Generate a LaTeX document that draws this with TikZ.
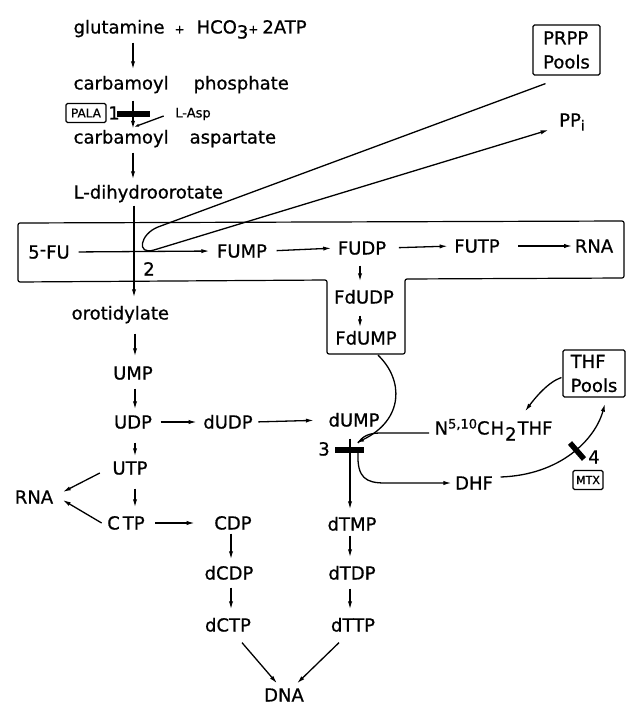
\documentclass[tikz,border=0pt]{standalone}
\usepackage{fontspec}
\setmainfont{DejaVu Sans}[FakeBold=0.8]
\usetikzlibrary{arrows.meta,calc}
\begin{document}
\begin{tikzpicture}[x=1pt,y=-1pt,
  line width=1.3pt,
  tip/.style={-{Latex[length=8pt,width=4.2pt]}},
  sh/.style 2 args={shorten <=#1pt, shorten >=#2pt},
  lbl/.style={inner sep=1pt,font=\fontsize{18}{22}\selectfont,text height=13pt,text depth=0pt},
  sml/.style={inner sep=1pt,font=\fontsize{13}{15}\selectfont},
  boxed/.style={draw,line width=1.2pt,rounded corners=1.5pt},
  pool/.style={boxed,align=left,inner sep=2pt,font=\fontsize{18}{24}\selectfont},
  inhib/.style={line width=5.5pt},
]
\useasboundingbox (0,0) rectangle (627,706);

% column guides
\coordinate (c1) at (133,0);
\coordinate (c1b) at (135,0);
\coordinate (c2) at (231,0);
\coordinate (c3) at (350,0);
\coordinate (c4) at (360,0);

% ---- top of the pathway ----
\node[lbl,anchor=west] (glu) at (72,27) {glutamine\hspace{10pt}{\fontsize{12}{12}\selectfont +}\hspace{12pt}HCO\raisebox{-5pt}{3}{\fontsize{12}{12}\selectfont +}\hspace{4pt}2ATP};
\node[lbl,anchor=west] (cp) at (72,83) {carbamoyl\hspace{25pt}phosphate};
\node[lbl,anchor=west] (ca) at (72,137) {carbamoyl\hspace{21pt}aspartate};
\node[lbl,anchor=west] (ld) at (72,192) {L-dihydroorotate};
\node[lbl,anchor=west] (orot) at (70,313) {orotidylate};

\draw[tip,sh={7.5}{5.5}] (glu.south -| c1) -- (cp.north -| c1);
\draw[tip,sh={9.5}{0}] (cp.south -| c1) -- (ca.north -| c1);
\draw[tip,sh={7.5}{4.5}] (ca.south -| c1) -- (ld.north -| c1);

% PALA inhibition
\node[boxed,font=\fontsize{12}{14}\selectfont,inner sep=1.5pt,minimum width=40pt,minimum height=19pt] (pala) at (86,113) {PALA};
\node[lbl] (one) at (114,113) {1};
\node[sml] (lasp) at (193,114) {L-Asp};
\coordinate (b1l) at (117,114);
\coordinate (b1r) at (150,114);
\draw[inhib] (b1l) -- (b1r);
\coordinate (aspj) at (134,127);
\draw[-{Latex[length=5pt,width=3pt]}] ($(lasp.west)+(-10,2)$) -- (aspj);

% ---- 5-FU box ----
\draw[line width=1.2pt,rounded corners=2pt] (18,223) -- (624,221) -- (624,278) -- (405,279) -- (405,354) -- (327,354) -- (327,280) -- (18,282) -- cycle;
\node[lbl] (fu) at (49,252) {5\raisebox{3pt}{-}FU};
\node[lbl] (fump) at (242,251) {FUMP};
\node[lbl] (fudp) at (362,248) {FUDP};
\node[lbl] (futp) at (477,246) {FUTP};
\node[lbl] (rnar) at (594,246) {RNA};
\node[lbl] (fdudp) at (364,297) {FdUDP};
\node[lbl] (fdump) at (366,338) {FdUMP};
\node[lbl] (two) at (149,269) {2};

\draw[tip,sh={7.3}{6}] (fu.east) -- (fump.west);
\draw[tip,sh={8}{5}] (fump.east) -- (fudp.west);
\draw[tip,sh={11}{5}] (fudp.east) -- (futp.west);
\draw[tip,sh={17}{1}] (futp.east) -- (rnar.west);
\draw[tip,sh={9.5}{7.5}] (fudp.south -| c4) -- (fdudp.north -| c4);
\draw[tip,sh={10.5}{2.5}] (fdudp.south -| c4) -- (fdump.north -| c4);

\draw[tip,sh={5.5}{7.5}] (ld.south -| 134,0) -- (orot.north -| 134,0);

% PRPP loop
\node[pool,minimum width=67pt,minimum height=50pt] (prpp) at (566.5,50) {PRPP\\Pools};
\node[lbl] (ppi) at (572,120) {PP\raisebox{-4pt}{\fontsize{14}{14}\selectfont i}};
\coordinate (lu) at (158,227);
\coordinate (ll) at (154,250);
\draw[tip] ($(prpp.south)+(-21,8)$) -- (lu) .. controls (140,234) and (136,255.5) .. (ll) -- ($(ppi.west)+(-9,10)$);

% ---- main column ----
\node[lbl] (ump) at (133,373) {UMP};
\node[lbl] (udp) at (133,422) {UDP};
\node[lbl] (dudp) at (228,422) {dUDP};
\node[lbl] (utp) at (130,468) {UTP};
\node[lbl] (ctp) at (126,523) {C\hspace{3pt}TP};
\node[lbl] (rnal) at (34,497) {RNA};
\node[lbl] (cdp) at (233,523) {CDP};
\node[lbl] (dcdp) at (229,573) {dCDP};
\node[lbl] (dctp) at (228,625) {dCTP};
\node[lbl] (dna) at (284,695) {DNA};
\node[lbl] (dump) at (354,420) {dUMP};
\node[lbl] (dtmp) at (352,524) {dTMP};
\node[lbl] (dtdp) at (352,573) {dTDP};
\node[lbl] (dttp) at (353,625) {dTTP};

\draw[tip,sh={12.5}{8.5}] (orot.south -| c1b) -- (ump.north -| c1b);
\draw[tip,sh={7.5}{4.5}] (ump.south -| c1b) -- (udp.north -| c1b);
\draw[tip,sh={12.5}{3.5}] (udp.south -| c1b) -- (utp.north -| c1b);
\draw[tip,sh={12.5}{7.5}] (utp.south -| c1b) -- (ctp.north -| c1b);
\draw[tip,sh={7}{5}] (udp.east) -- (dudp.west);
\draw[tip,sh={4}{13}] (dudp.east) -- (dump.west);
\draw[tip,sh={9}{18}] (ctp.east) -- (cdp.west);
\draw[tip] ($(utp.west)+(-11,5)$) -- ($(rnal.east)+(8,-5)$);
\draw[tip] ($(ctp.west)+(-4,0)$) -- ($(rnal.east)+(8,3)$);

\draw[tip,sh={2.5}{5.5}] (cdp.south -| c2) -- (dcdp.north -| c2);
\draw[tip,sh={6.5}{7.5}] (dcdp.south -| c2) -- (dctp.north -| c2);
\draw[tip,sh={10.5}{6.5}] (dump.south -| c3) -- (dtmp.north -| c3);
\draw[tip,sh={3.5}{7.5}] (dtmp.south -| c3) -- (dtdp.north -| c3);
\draw[tip,sh={7.5}{7.5}] (dtdp.south -| c3) -- (dttp.north -| c3);
\draw[tip] ($(dctp.south)+(14,9.5)$) -- ($(dna.north)+(-7,-3.5)$);
\draw[tip] ($(dttp.south)+(-14,9.5)$) -- ($(dna.north)+(13,-3.5)$);

% ---- thymidylate synthase / folate cycle ----
\coordinate (b3) at (349,450);
\coordinate (b3l) at (335,450);
\coordinate (b3r) at (364,450);
\draw[inhib] (b3l) -- (b3r);
\node[lbl] (three) at (324,449) {3};

\node[lbl,anchor=west] (n510) at (433,428) {N\raisebox{6pt}{\fontsize{13}{13}\selectfont 5,10}C\hspace{1pt}H\hspace{1pt}\raisebox{-6pt}{2}\hspace{1pt}THF};
\node[lbl] (dhf) at (474,483) {DHF};
\node[pool,minimum width=62pt,minimum height=47pt] (thf) at (594,373.5) {THF\\Pools};
\node[boxed,font=\fontsize{11}{13}\selectfont,inner sep=1.5pt,minimum width=30pt,minimum height=19pt] (mtx) at (588,480) {MTX};
\node[lbl] (four) at (594,457) {4};

\draw[tip] ($(fdump.south)+(12,9)$) .. controls (404,380) and (404,420) .. ($(b3)+(7,-7)$);
\coordinate (nj) at (380,433);
\draw ($(n510.west)+(-4,5)$) -- (nj) .. controls (368,433) and (362,437) .. ($(b3)+(9,-7)$);
\draw[tip,sh={0}{2}] ($(b3)+(9,3)$) .. controls (357,478) and (366,483) .. (385,483) -- (dhf.west);
\draw[tip] ($(dhf.east)+(6,-6)$) .. controls (560,475) and (595,440) .. ($(thf.south)+(11,6)$);
\draw[tip] ($(thf.west)+(-1,4)$) .. controls (548,382) and (535,398) .. ($(n510.north west)+(92,-8.5)$);
\coordinate (b4a) at (570,443);
\coordinate (b4b) at (584,459);
\draw[inhib] (b4a) -- (b4b);
\end{tikzpicture}
\end{document}
